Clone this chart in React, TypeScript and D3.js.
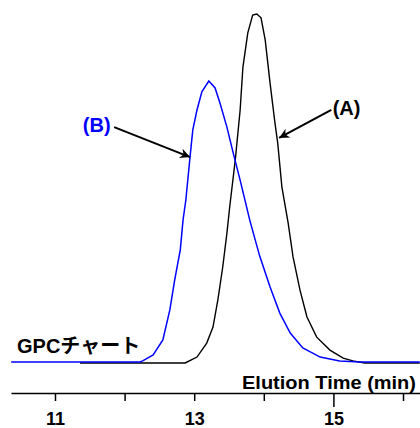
import React, { useRef, useEffect } from "react";
import * as d3 from "d3";

// elution time (min) / detector response (peak of A = 100)
const timesA = [10.37, 11.36, 12.87, 13.04, 13.18, 13.27, 13.34, 13.41, 13.47, 13.51, 13.59, 13.66, 13.7, 13.77, 13.84, 13.9, 13.96, 14.02, 14.09, 14.16, 14.2, 14.26, 14.35, 14.42, 14.52, 14.62, 14.76, 14.95, 15.14, 15.28, 15.45, 16.24];
const valuesA = [null, 0, 0, 1.7, 5.7, 10.3, 18.1, 27.5, 37.2, 44.7, 58.2, 72.5, 84.8, 94.6, 99.7, 100, 98.9, 92.6, 80.2, 68.8, 63.0, 50.4, 40.1, 30.4, 20.9, 13.2, 7.4, 3.7, 1.4, 0.6, 0, 0];

const timesB = [10.37, 12.22, 12.26, 12.41, 12.55, 12.65, 12.72, 12.8, 12.84, 12.88, 12.94, 12.98, 13.04, 13.11, 13.21, 13.3, 13.37, 13.47, 13.56, 13.66, 13.8, 13.94, 14.09, 14.23, 14.38, 14.56, 14.81, 15.09, 15.38, 16.24];
const valuesB = [0.3, 0.3, 0.6, 2.3, 6.6, 15.2, 23.8, 32.4, 41.0, 46.7, 59.0, 66.8, 72.5, 77.7, 80.8, 78.8, 74.5, 67.6, 60.2, 52.4, 40.8, 30.7, 21.8, 14.3, 8.6, 4.3, 1.7, 0.6, 0.3, 0.3];

const tickValues = [11, 12, 13, 14, 15, 16];
const tickLabels = ["11", "", "13", "", "15", ""];

// arrows: [fromTime, fromValue, toTime, toValue]
const arrowA = [14.97, 72.5, 14.22, 64.5];
const arrowB = [11.85, 67.6, 12.94, 59.0];

const W = 420;
const H = 428;
const FONT = "'Liberation Sans', Arial, 'Noto Sans CJK JP', sans-serif";

const App = () => {
  const svgRef = useRef<SVGSVGElement>(null);

  useEffect(() => {
    const svg = d3.select(svgRef.current);
    svg.selectAll("*").remove();

    const x = d3.scaleLinear().domain([10.368, 16.244]).range([11, 420]);
    const y = d3.scaleLinear().domain([0, 100]).range([363, 14]);
    const axisY = 393;

    const defs = svg.append("defs");
    defs.append("marker")
      .attr("id", "head")
      .attr("viewBox", "0 0 10 10")
      .attr("refX", 10)
      .attr("refY", 5)
      .attr("markerWidth", 13)
      .attr("markerHeight", 10)
      .attr("markerUnits", "userSpaceOnUse")
      .attr("orient", "auto")
      .append("path")
      .attr("d", "M0,0 L10,5 L0,10 L3,5 Z")
      .attr("fill", "#000");

    const line = d3.line<[number, number | null]>()
      .defined(d => d[1] !== null)
      .x(d => x(d[0]))
      .y(d => y(d[1] as number));

    const seriesA = timesA.map((t, i) => [t, valuesA[i]] as [number, number | null]);
    const seriesB = timesB.map((t, i) => [t, valuesB[i]] as [number, number | null]);

    svg.append("path")
      .attr("d", line(seriesA))
      .attr("fill", "none")
      .attr("stroke", "#000")
      .attr("stroke-width", 1.4);

    svg.append("path")
      .attr("d", line(seriesB))
      .attr("fill", "none")
      .attr("stroke", "#0000ff")
      .attr("stroke-width", 1.5);

    // axis
    const axis = d3.axisBottom(x)
      .tickValues(tickValues)
      .tickSize(8)
      .tickSizeOuter(0)
      .tickPadding(4)
      .tickFormat((d, i) => tickLabels[i]);

    const ax = svg.append("g")
      .attr("transform", `translate(0,${axisY})`)
      .call(axis);
    ax.select(".domain").attr("stroke", "#000").attr("stroke-width", 1.5);
    ax.selectAll(".tick line").attr("stroke", "#000").attr("stroke-width", 1.5)
      .attr("y2", (d: any) => (d === 15 ? 14 : 8));
    ax.selectAll(".tick text")
      .attr("y", 32)
      .attr("dy", 0)
      .attr("fill", "#000")
      .style("font-family", FONT)
      .style("font-size", "18px")
      .style("font-weight", "bold");

    svg.append("text")
      .attr("x", 416)
      .attr("y", 389)
      .attr("text-anchor", "end")
      .attr("textLength", 174)
      .attr("lengthAdjust", "spacingAndGlyphs")
      .style("font-family", FONT)
      .style("font-size", "18.5px")
      .style("font-weight", "bold")
      .text("Elution Time (min)");

    svg.append("text")
      .attr("x", 17)
      .attr("y", 353)
      .style("font-family", FONT)
      .style("font-size", "20px")
      .style("font-weight", "bold")
      .text("GPCチャート");

    // annotations
    const drawArrow = (a: number[]) => {
      svg.append("line")
        .attr("x1", x(a[0]))
        .attr("y1", y(a[1]))
        .attr("x2", x(a[2]))
        .attr("y2", y(a[3]))
        .attr("stroke", "#000")
        .attr("stroke-width", 2)
        .attr("marker-end", "url(#head)");
    };
    drawArrow(arrowA);
    drawArrow(arrowB);

    svg.append("text")
      .attr("x", x(11.4))
      .attr("y", 132)
      .attr("fill", "#0000ff")
      .style("font-family", FONT)
      .style("font-size", "20px")
      .style("font-weight", "bold")
      .text("(B)");

    svg.append("text")
      .attr("x", x(14.99))
      .attr("y", 115)
      .attr("fill", "#000")
      .style("font-family", FONT)
      .style("font-size", "20px")
      .style("font-weight", "bold")
      .text("(A)");
  }, []);

  return (
    <svg
      ref={svgRef}
      width={W}
      height={H}
      style={{ position: "absolute", left: 0, top: 0, background: "#fff" }}
    />
  );
};

export default App;
